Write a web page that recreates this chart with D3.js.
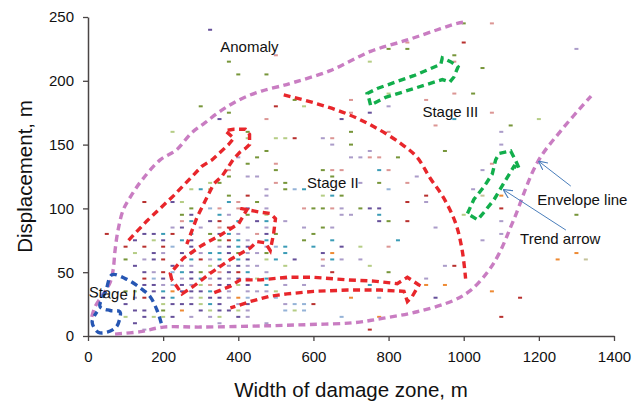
<!DOCTYPE html>
<html>
<head>
<meta charset="utf-8">
<script src="https://cdn.jsdelivr.net/npm/d3@7"></script>
<style>
body { margin: 0; background: #fff; }
text { font-family: "Liberation Sans", Arial, sans-serif; fill: #111; }
</style>
</head>
<body>
<svg id="chart" width="642" height="405"></svg>
<script>
const xTicks = [0, 200, 400, 600, 800, 1000, 1200, 1400];
const yTicks = [0, 50, 100, 150, 200, 250];

// observations, one list per marker colour: [width of damage zone, displacement]
const purplePts = [[175,80],[200,75],[275,75],[275,70],[375,70],[425,70],[175,65],[250,65],[375,65],[175,60],[425,60],[225,55],[350,55],[400,55],[275,50],[375,50],[200,45],[275,45],[350,45],[400,45],[175,40],[250,40],[350,40],[375,40],[425,40],[175,35],[250,35],[275,35],[300,35],[200,30],[325,30],[350,30],[225,25],[250,25],[275,25],[350,25],[425,25],[300,20],[350,20],[375,20],[225,15],[400,15],[425,100],[275,95],[325,90],[450,90],[250,85],[350,80],[475,80],[125,75],[150,80],[125,55],[150,50],[150,40],[100,25],[125,20],[150,20],[125,10],[150,15],[325,240],[350,170],[750,175],[675,170],[225,105],[750,100],[775,100],[775,90],[675,70],[625,65],[550,60],[925,30]];
const redPts = [[425,110],[350,90],[375,85],[225,80],[375,75],[200,70],[200,60],[300,60],[200,50],[400,50],[50,80],[100,70],[150,105],[150,70],[150,45],[150,30],[500,180],[550,155],[850,105],[900,110],[850,90],[650,50],[975,55],[600,25],[750,5],[1100,15],[1150,30],[1000,230],[1100,100]];
const greenPts = [[375,110],[450,105],[275,100],[250,95],[425,95],[325,80],[500,80],[350,75],[400,65],[475,65],[300,50],[200,20],[100,60],[100,35],[375,215],[400,205],[475,205],[300,180],[375,175],[425,160],[550,185],[700,160],[700,150],[475,145],[450,140],[500,130],[375,125],[625,130],[825,140],[425,135],[525,120],[350,120],[950,145],[650,125],[525,115],[775,120],[675,110],[600,100],[625,100],[725,100],[800,90],[625,85],[575,75],[600,80],[800,50],[1300,95],[1000,245],[975,220],[1050,210],[1025,190],[1125,165],[800,225],[850,225]];
const lightBluePts = [[325,100],[225,70],[500,70],[225,50],[175,45],[225,40],[425,30],[500,30],[150,35],[550,115],[800,115],[775,30],[550,25],[575,25],[525,20],[575,20],[675,15]];
const tealPts = [[375,105],[350,95],[275,90],[400,90],[475,90],[200,80],[275,80],[375,80],[250,75],[400,75],[475,75],[400,70],[275,65],[325,65],[350,65],[525,65],[275,60],[350,60],[400,60],[500,60],[250,50],[425,50],[300,45],[475,45],[475,40],[200,35],[325,35],[225,30],[325,25],[300,115],[575,115],[650,110],[775,95],[650,75],[825,75],[525,70],[600,70],[650,60],[750,40],[775,130],[975,170]];
const pinkPts = [[400,105],[350,100],[400,100],[250,90],[350,85],[450,80],[325,50],[350,50],[325,40],[500,220],[475,170],[700,185],[700,175],[825,190],[650,155],[800,160],[500,135],[375,130],[650,130],[675,130],[750,140],[775,140],[800,130],[500,120],[850,120],[575,100],[650,100],[800,70],[625,60],[1075,135],[1075,245],[975,215],[900,185],[975,190],[1075,175],[925,165],[850,230]];
const orangePts = [[225,35],[400,30],[250,20],[650,65],[900,40],[950,40],[700,30],[775,15],[1300,65],[1250,60],[1075,35],[1100,110]];
const lightGreenPts = [[475,95],[475,60],[325,55],[450,45],[300,40],[400,40],[500,35],[300,30],[200,25],[300,25],[325,20],[400,20],[175,15],[200,15],[350,15],[175,75],[125,65],[125,35],[100,15],[225,160],[500,155],[525,155],[425,155],[575,180],[800,190],[325,120],[275,115],[325,115],[250,105],[625,110],[725,70],[525,55],[750,55],[550,20],[1000,95],[1200,170],[750,215]];
const lavenderPts = [[475,110],[475,100],[375,95],[525,90],[225,85],[300,85],[425,85],[475,85],[400,80],[425,75],[350,70],[475,70],[200,65],[300,65],[425,65],[450,65],[325,60],[250,55],[275,55],[375,55],[425,55],[450,55],[175,50],[475,50],[250,45],[325,45],[375,45],[425,45],[525,45],[200,40],[275,40],[350,35],[375,35],[425,35],[450,35],[475,35],[275,30],[375,30],[400,25],[525,25],[425,20],[275,15],[325,15],[425,15],[350,10],[475,10],[150,60],[125,30],[150,5],[800,180],[625,155],[650,150],[750,145],[400,140],[425,125],[700,140],[725,140],[450,125],[475,115],[725,120],[875,125],[900,105],[675,100],[700,95],[675,95],[925,85],[575,85],[650,85],[675,60],[725,60],[625,55],[950,55],[525,40],[575,40],[900,45],[1100,160],[1100,150],[1050,130],[1025,115],[1100,90],[1050,75],[1100,80],[1300,225]];
const tanPts = [[1325,60],[1050,110]];

// hand drawn outlines, in axis units
const envelopeUpper = [[10,15],[19,23],[41,33],[59,42],[67,52],[72,67],[80,83],[94,99],[115,110],[143,122],[192,138],[236,146],[275,159],[311,167],[356,177],[409,186],[462,192],[515,196],[539,198],[645,208],[752,223],[850,232],[930,240],[983,245],[1000,246]];
const envelopeLower = [[72,1.5],[139,3.4],[201,7],[299,7],[476,8],[592,9],[707,10.4],[787,14],[876,19],[974,28],[1019,36],[1063,50],[1093,64],[1133,91],[1196,136],[1259,161],[1339,188]];
const stage2Arc = [[521,189],[610,182],[690,174],[761,164],[832,151],[876,140],[910,124],[947,108],[979,88],[996,67],[1005,45]];
const stage2ArrowA = [[108,75],[156,90],[228,110],[303,133],[330,138],[352,144],[374,150],[388,155],[365,161],[388,162],[419,162],[430,158],[430,150],[419,147],[404,144],[388,139],[370,131],[356,125],[334,119],[290,93],[263,72]];
const stage2ArrowB = [[223,44],[219,49],[254,61],[303,71],[352,79],[401,88],[423,99],[405,100],[459,97],[485,96],[499,92],[494,80],[485,67],[472,73],[450,74],[432,69],[379,60],[325,49],[281,39],[250,33],[236,39],[223,44]];
const stage2ArrowC = [[336,34],[379,39],[405,44],[459,44],[530,46],[601,46],[690,44],[761,43],[823,41],[850,46],[881,40],[863,31],[850,27],[841,35],[779,36],[690,36],[601,35],[530,33],[481,31],[432,27],[401,24],[379,22]];
const stage3ArrowA = [[752,181],[747,187],[743,190],[770,194],[867,204],[939,213],[943,218],[965,215],[985,211],[974,203],[963,199],[943,201],[868,194],[792,187],[752,181]];
const stage3ArrowB = [[1010,96],[1027,107],[1054,117],[1076,127],[1085,138],[1094,143],[1125,145],[1139,137],[1148,131],[1134,133],[1107,120],[1081,107],[1054,97],[1037,91],[1010,96]];
const stage1Loop = [[195,10],[184,20],[165,31],[133,39],[99,45],[64,48],[48,36],[32,23],[59,20],[85,19],[83,12],[75,7],[51,3],[27,3],[11,11],[24,19]];

const W = 642, H = 405;
const x = d3.scaleLinear().domain([0, 1400]).range([88, 614]);
const y = d3.scaleLinear().domain([0, 250]).range([336, 17]);

const svg = d3.select('#chart');

const series = [
	{ pts: lavenderPts, color: '#ab9cc9' },
	{ pts: lightGreenPts, color: '#b5cd85' },
	{ pts: lightBluePts, color: '#95b3d7' },
	{ pts: pinkPts, color: '#dc9694' },
	{ pts: tanPts, color: '#c4c39a' },
	{ pts: greenPts, color: '#77963a' },
	{ pts: tealPts, color: '#3b9cb6' },
	{ pts: orangePts, color: '#ee8a33' },
	{ pts: purplePts, color: '#66509a' },
	{ pts: redPts, color: '#b8302e' }
];

const marks = svg.append('g');
series.forEach(s => {
	marks
		.selectAll(null)
		.data(s.pts)
		.enter()
		.append('rect')
		.attr('x', d => x(d[0]) - 2)
		.attr('y', d => y(d[1]) - 1)
		.attr('width', 4)
		.attr('height', 2)
		.style('fill', s.color);
});

// axes
const axisColor = '#4a4545';
const gx = svg
	.append('g')
	.attr('transform', `translate(0,${y(0)})`)
	.call(d3.axisBottom(x).tickValues(xTicks).tickFormat(d3.format('d')).tickSize(5).tickPadding(10).tickSizeOuter(0));
const gy = svg
	.append('g')
	.attr('transform', `translate(${x(0)},0)`)
	.call(d3.axisLeft(y).tickValues(yTicks).tickFormat(d3.format('d')).tickSize(5).tickPadding(9).tickSizeOuter(0));
[gx, gy].forEach(g => {
	g.select('.domain').attr('stroke', axisColor).attr('stroke-width', 1.5);
	g.selectAll('.tick line').attr('stroke', axisColor).attr('stroke-width', 1.3);
	g.selectAll('.tick text')
		.attr('font-size', 15)
		.attr('font-family', '"Liberation Sans", Arial, sans-serif')
		.attr('fill', '#111');
});

// dashed outlines
const smooth = d3.line().x(d => x(d[0])).y(d => y(d[1])).curve(d3.curveCatmullRom.alpha(0.5));
const straight = d3.line().x(d => x(d[0])).y(d => y(d[1]));

function dashed(data, line, color) {
	svg
		.append('path')
		.attr('d', line(data))
		.attr('fill', 'none')
		.attr('stroke', color)
		.attr('stroke-width', 3.4)
		.attr('stroke-dasharray', '7,4.5');
}

dashed(envelopeUpper, smooth, '#c97dc2');
dashed(envelopeLower, smooth, '#c97dc2');
dashed(stage2Arc, smooth, '#e8262b');
dashed(stage2ArrowA, straight, '#e8262b');
dashed(stage2ArrowB, straight, '#e8262b');
dashed(stage2ArrowC, straight, '#e8262b');
dashed(stage3ArrowA, straight, '#12ae4c');
dashed(stage3ArrowB, straight, '#12ae4c');
dashed(stage1Loop, smooth, '#2656b3');

// labels
const labels = [
	{ t: 'Anomaly', at: [352, 222.5] },
	{ t: 'Stage III', at: [890, 171.5] },
	{ t: 'Stage II', at: [583, 116] },
	{ t: 'Stage I', at: [1, 30.5], rot: 4 },
	{ t: 'Envelope line', at: [1196, 102.5] },
	{ t: 'Trend arrow', at: [1150, 72] }
];
labels.forEach(l => {
	const tx = svg
		.append('text')
		.attr('x', x(l.at[0]))
		.attr('y', y(l.at[1]))
		.attr('font-size', 15)
		.text(l.t);
	if (l.rot) tx.attr('transform', `rotate(${l.rot},${x(l.at[0])},${y(l.at[1])})`);
});

// leader arrows
svg
	.append('defs')
	.append('marker')
	.attr('id', 'head')
	.attr('viewBox', '0 0 10 10')
	.attr('refX', 9)
	.attr('refY', 5)
	.attr('markerWidth', 9)
	.attr('markerHeight', 9)
	.attr('markerUnits', 'userSpaceOnUse')
	.attr('orient', 'auto')
	.append('path')
	.attr('d', 'M0,0 L10,5 L0,10')
	.attr('fill', 'none')
	.attr('stroke', '#4a7ebb')
	.attr('stroke-width', 1.3);

const leaders = [
	[[1285, 117.5], [1201, 136.6]],
	[[1272, 83], [1107, 114.4]]
];
leaders.forEach(p => {
	svg
		.append('line')
		.attr('x1', x(p[0][0]))
		.attr('y1', y(p[0][1]))
		.attr('x2', x(p[1][0]))
		.attr('y2', y(p[1][1]))
		.attr('stroke', '#4a7ebb')
		.attr('stroke-width', 1)
		.attr('marker-end', 'url(#head)');
});

// axis titles
svg
	.append('text')
	.attr('x', (x(0) + x(1400)) / 2)
	.attr('y', 397)
	.attr('text-anchor', 'middle')
	.attr('font-size', 20.5)
	.text('Width of damage zone, m');

svg
	.append('text')
	.attr('transform', `translate(32,${(y(0) + y(250)) / 2}) rotate(-90)`)
	.attr('text-anchor', 'middle')
	.attr('font-size', 20.5)
	.text('Displacement, m');
</script>
</body>
</html>
